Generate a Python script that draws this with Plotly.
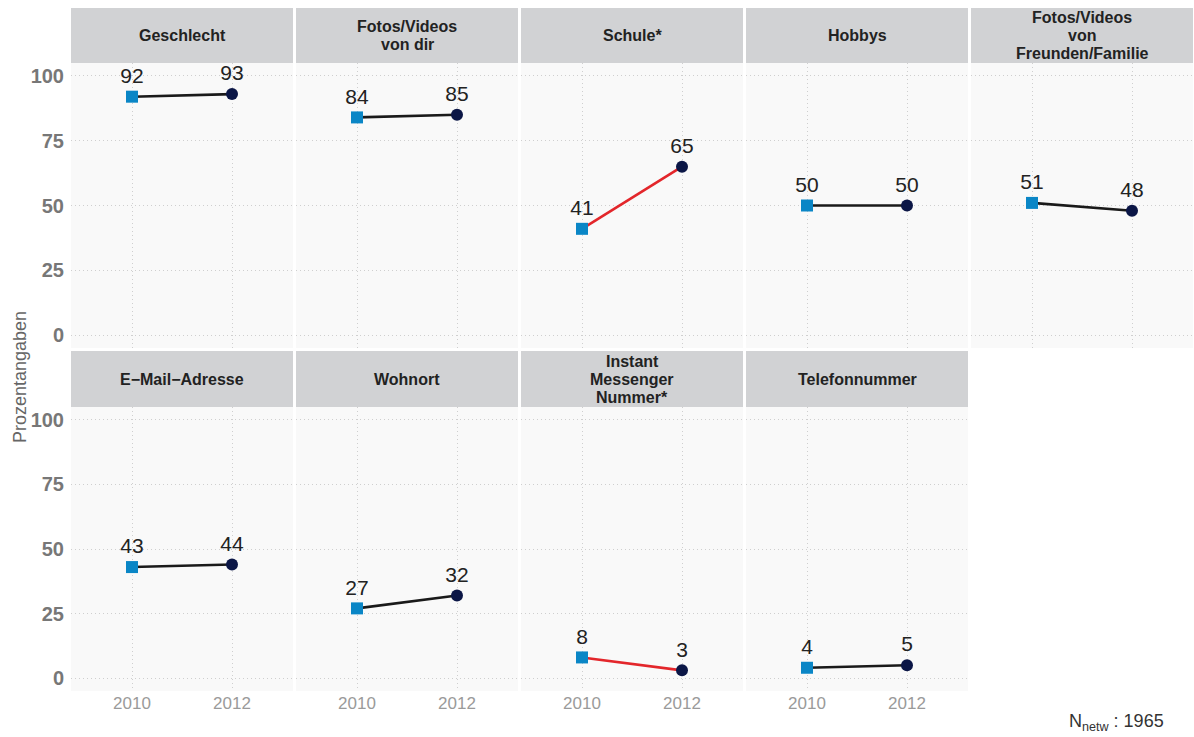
import plotly.graph_objects as go

# Facet titles, in panel order (row by row); "<br>" marks a line break
categories = [
    "Geschlecht",
    "Fotos/Videos<br>von dir",
    "Schule*",
    "Hobbys",
    "Fotos/Videos<br>von<br>Freunden/Familie",
    "E\u2212Mail\u2212Adresse",
    "Wohnort",
    "Instant<br>Messenger<br>Nummer*",
    "Telefonnummer",
]
years = [2010, 2012]
values_2010 = [92, 84, 41, 50, 51, 43, 27, 8, 4]
values_2012 = [93, 85, 65, 50, 48, 44, 32, 3, 5]
significant = [False, False, True, False, False, False, False, True, False]
y_ticks = [0, 25, 50, 75, 100]
sample_note = "N<sub>netw</sub> : 1965"

W, H = 1194, 737
FONT = "Liberation Sans, Arial, Helvetica, sans-serif"
SQUARE = "#0a86c6"
CIRCLE = "#0b1646"
LINE_N = "#1a1a1a"
LINE_S = "#e3262b"
STRIP = "#d1d2d4"
PANEL = "#f9f9f9"
GRID = "#cfcfcf"
STRIP_LINE_GAP = 18  # px between strip title lines

# panel geometry in pixels
col_left = [71 + 225 * c for c in range(5)]
panel_w = 222
rows = [  # (strip_top, panel_top, panel_bottom)
    (8, 63, 348),
    (351, 407, 691),
]


def px_x(x):
    return x / W


def px_y(y):
    return 1 - y / H


fig = go.Figure()
layout = dict(shapes=[], annotations=[])

for i, cat in enumerate(categories):
    r, c = divmod(i, 5)
    n = i + 1
    xa = "xaxis" if n == 1 else f"xaxis{n}"
    ya = "yaxis" if n == 1 else f"yaxis{n}"
    xr = "x" if n == 1 else f"x{n}"
    yr = "y" if n == 1 else f"y{n}"
    strip_top, p_top, p_bot = rows[r]
    x0, x1 = col_left[c], col_left[c] + panel_w

    layout[xa] = dict(
        domain=[px_x(x0), px_x(x1)],
        anchor=yr,
        range=[2008.78, 2013.22],
        tickvals=years,
        ticktext=[str(y) for y in years],
        showticklabels=(r == 1),
        tickfont=dict(family=FONT, size=17, color="#9a9a9a"),
        ticks="",
        showgrid=True,
        gridcolor=GRID,
        griddash="1px,3px",
        gridwidth=1,
        zeroline=False,
        showline=False,
        fixedrange=True,
    )
    layout[ya] = dict(
        domain=[px_y(p_bot), px_y(p_top)],
        anchor=xr,
        range=[-5, 105],
        tickvals=y_ticks,
        showticklabels=(c == 0),
        tickfont=dict(family=FONT, size=20, color="#777777", weight="bold"),
        ticks="",
        ticklabelstandoff=6,
        showgrid=True,
        gridcolor=GRID,
        griddash="1px,3px",
        gridwidth=1,
        zeroline=False,
        showline=False,
        fixedrange=True,
    )

    # panel background
    layout["shapes"].append(dict(
        type="rect", xref="paper", yref="paper", layer="below",
        x0=px_x(x0), x1=px_x(x1), y0=px_y(p_bot), y1=px_y(p_top),
        fillcolor=PANEL, line=dict(width=0),
    ))
    # strip
    layout["shapes"].append(dict(
        type="rect", xref="paper", yref="paper", layer="below",
        x0=px_x(x0), x1=px_x(x1), y0=px_y(p_top), y1=px_y(strip_top),
        fillcolor=STRIP, line=dict(width=0),
    ))
    # strip title, one annotation per line for tight line spacing
    lines = cat.split("<br>")
    mid = (strip_top + p_top) / 2
    for k, line in enumerate(lines):
        yc = mid + (k - (len(lines) - 1) / 2) * STRIP_LINE_GAP
        layout["annotations"].append(dict(
            xref="paper", yref="paper",
            x=px_x((x0 + x1) / 2), y=px_y(yc),
            text=f"<b>{line}</b>", showarrow=False,
            xanchor="center", yanchor="middle",
            font=dict(family=FONT, size=16, color="#222222"),
        ))

    v = [values_2010[i], values_2012[i]]
    fig.add_trace(go.Scatter(
        x=years, y=v, mode="lines", xaxis=xr, yaxis=yr,
        line=dict(color=LINE_S if significant[i] else LINE_N, width=2.6),
        showlegend=False, hoverinfo="skip",
    ))
    fig.add_trace(go.Scatter(
        x=[years[0]], y=[v[0]], mode="markers+text", xaxis=xr, yaxis=yr,
        marker=dict(symbol="square", size=12, color=SQUARE),
        text=[str(v[0])], textposition="top center",
        textfont=dict(family=FONT, size=21, color="#222222"),
        showlegend=False,
    ))
    fig.add_trace(go.Scatter(
        x=[years[1]], y=[v[1]], mode="markers+text", xaxis=xr, yaxis=yr,
        marker=dict(symbol="circle", size=12, color=CIRCLE),
        text=[str(v[1])], textposition="top center",
        textfont=dict(family=FONT, size=21, color="#222222"),
        showlegend=False,
    ))

# axis title and sample note
layout["annotations"].append(dict(
    xref="paper", yref="paper", x=px_x(20), y=px_y(377),
    text="Prozentangaben", textangle=-90, showarrow=False,
    xanchor="center", yanchor="middle",
    font=dict(family=FONT, size=18, color="#666666"),
))
layout["annotations"].append(dict(
    xref="paper", yref="paper", x=px_x(1166), y=px_y(722),
    text=sample_note, showarrow=False,
    xanchor="right", yanchor="middle",
    font=dict(family=FONT, size=18, color="#333333"),
))

fig.update_layout(
    width=W, height=H,
    margin=dict(l=0, r=0, t=0, b=0),
    paper_bgcolor="white",
    plot_bgcolor="rgba(0,0,0,0)",
    **layout,
)

fig.write_html("out.html")
